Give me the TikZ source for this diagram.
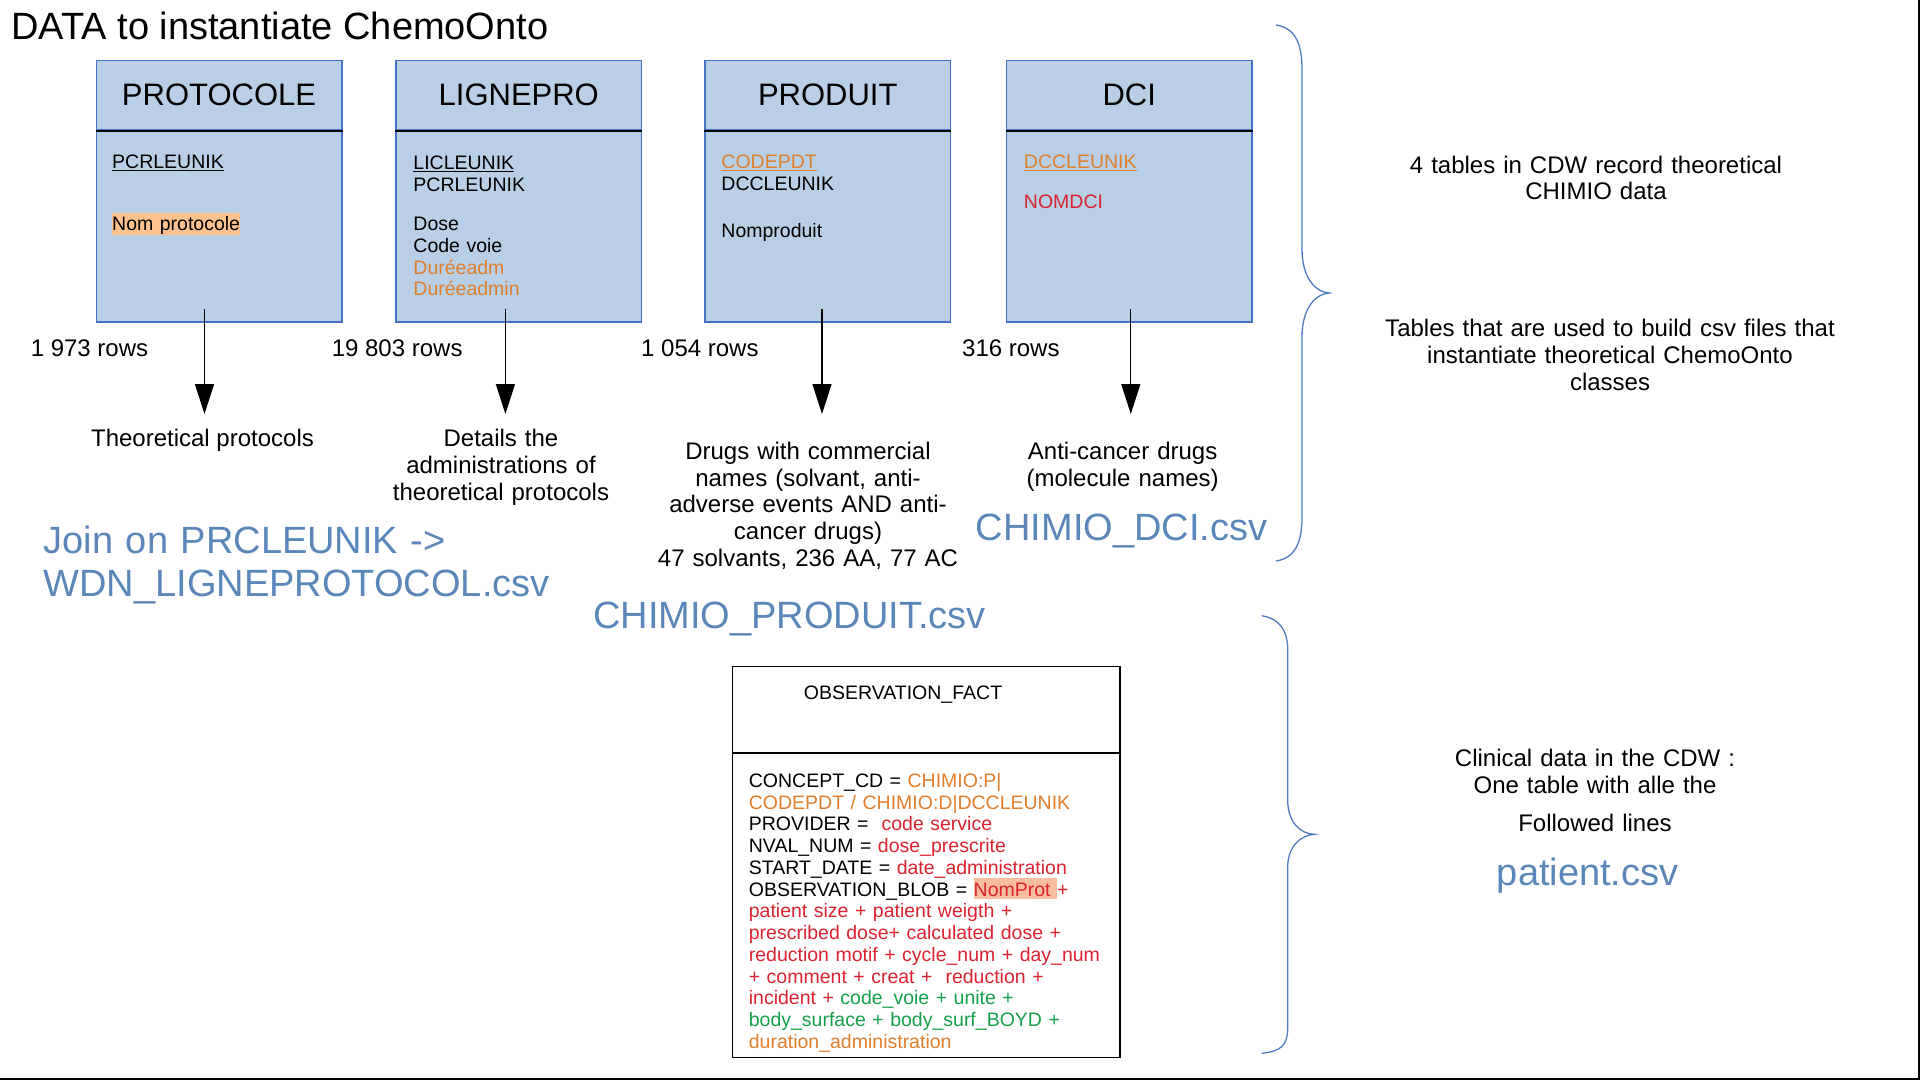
\documentclass[tikz,border=0pt]{standalone}
\usepackage{fontspec}
\setmainfont{Liberation Sans}
\usetikzlibrary{arrows.meta,calc}
\definecolor{boxfill}{HTML}{B9CFE6}
\definecolor{boxline}{HTML}{4472C4}
\definecolor{txtorange}{HTML}{E07E2C}
\definecolor{txtred}{HTML}{DA2230}
\definecolor{txtgreen}{HTML}{16A04B}
\definecolor{csvblue}{HTML}{5A86BA}
\definecolor{bracecol}{HTML}{4F7CC0}
\definecolor{hlone}{HTML}{FFC18E}
\definecolor{hltwo}{HTML}{F9BE9D}
\newcommand\myul[1]{\begingroup\setbox0\hbox{#1}\rlap{\rule[-2.6pt]{\wd0}{1.3pt}}\box0\endgroup}
\newcommand\myhl[2]{{\setlength{\fboxsep}{0pt}\colorbox{#1}{\rule[-3.3pt]{0pt}{21pt}#2}}}
\begin{document}
\begin{tikzpicture}[x=1pt,y=-1pt,
  hdr/.style={draw=boxline,fill=boxfill,line width=1.5pt,minimum width=245.5pt,
    minimum height=69.5pt,inner sep=0pt,text height=44.5pt,text depth=25pt,
    font=\fontsize{31}{36}\selectfont},
  tbody/.style={draw=boxline,fill=boxfill,line width=1.5pt,minimum width=245.5pt,
    minimum height=190.5pt,inner sep=0pt},
  divider/.style={line width=1.5pt,black},
  fields/.style={anchor=base west,inner sep=0pt,text width=220pt,align=left,
    font=\fontsize{19.5}{21.8}\selectfont},
  lbl/.style={anchor=base,inner sep=0pt,font=\fontsize{24}{26.7}\selectfont},
  lblc/.style={anchor=base,inner sep=0pt,align=center,font=\fontsize{24}{26.7}\selectfont},
  rows/.style={anchor=base west,inner sep=0pt,font=\fontsize{24}{26.7}\selectfont},
  csv/.style={anchor=base west,inner sep=0pt,text=csvblue,font=\fontsize{38}{43.4}\selectfont},
  arr/.style={line width=1.2pt,black,-{Triangle[length=30pt,width=19pt]}},
  brace/.style={draw=bracecol,line width=1.3pt},
  obs/.style={draw=black,line width=1.3pt,minimum width=387.7pt,inner sep=0pt}
]
\useasboundingbox (0,0) rectangle (1920,1080);

% title
\node[anchor=base west,inner sep=0pt,font=\fontsize{38}{44}\selectfont] (title) at (11,39) {DATA to instantiate ChemoOnto};

% tables
\node[hdr] (h1) at (219,95.25) {PROTOCOLE};
\node[tbody,anchor=north] (b1) at (h1.south) {};
\node[hdr] (h2) at (518.75,95.25) {LIGNEPRO};
\node[tbody,anchor=north] (b2) at (h2.south) {};
\node[hdr] (h3) at (827.75,95.25) {PRODUIT};
\node[tbody,anchor=north] (b3) at (h3.south) {};
\node[hdr] (h4) at (1129.25,95.25) {DCI};
\node[tbody,anchor=north] (b4) at (h4.south) {};
\foreach \i in {1,2,3,4} {\draw[divider] (h\i.south west) -- (h\i.south east);}

\node[fields] (f1) at ($(b1.north west)+(16.5,38)$)
  {\myul{PCRLEUNIK}\\[40pt]\myhl{hlone}{Nom protocole}};
\node[fields] (f2) at ($(b2.north west)+(18,38.7)$)
  {\myul{LICLEUNIK}\\PCRLEUNIK\\[17.4pt]Dose\\Code voie\\{\color{txtorange}Duréeadm}\\{\color{txtorange}Duréeadmin}};
\node[fields] (f3) at ($(b3.north west)+(17,38)$)
  {{\color{txtorange}\myul{CODEPDT}}\\DCCLEUNIK\\[24.9pt]Nomproduit};
\node[fields] (f4) at ($(b4.north west)+(18,38)$)
  {{\color{txtorange}\myul{DCCLEUNIK}}\\[18.2pt]{\color{txtred}NOMDCI}};

% row counts
\node[rows] (n1) at (30.6,356) {1 973 rows};
\node[rows] (n2) at (331.6,356) {19 803 rows};
\node[rows] (n3) at (641,356) {1 054 rows};
\node[rows] (n4) at (962,356) {316 rows};

% arrows
\coordinate (e1) at (204.5,414);
\coordinate (e2) at (505.4,414);
\coordinate (e3) at (822,414);
\coordinate (e4) at (1130.8,414);
\draw[arr] ($(b1.south -| e1)+(0,-13.5)$) -- (e1);
\draw[arr] ($(b2.south -| e2)+(0,-13.5)$) -- (e2);
\draw[arr] ($(b3.south -| e3)+(0,-13.5)$) -- (e3);
\draw[arr] ($(b4.south -| e4)+(0,-13.5)$) -- (e4);

% descriptions
\node[lbl] (d1) at (202.5,446.7) {Theoretical protocols};
\node[lblc,text width=250pt] (d2) at (501,446.7) {Details the\\administrations of\\theoretical protocols};
\node[lblc,text width=360pt] (d3) at (808,459.5) {Drugs with commercial\\names (solvant, anti-\\adverse events AND anti-\\cancer drugs)\\47 solvants, 236 AA, 77 AC};
\node[lblc,text width=260pt] (d4) at (1122.6,459.5) {Anti-cancer drugs\\(molecule names)};

% csv names
\node[csv,text width=600pt,align=left] (c1) at (43.4,553.3) {Join on PRCLEUNIK ->\\WDN\_LIGNEPROTOCOL.csv};
\node[csv] (c2) at (593,628.3) {CHIMIO\_PRODUIT.csv};
\node[csv] (c3) at (975.7,540.7) {CHIMIO\_DCI.csv};
\node[csv] (c4) at (1496.7,885) {patient.csv};

% braces
\draw[brace] (1276,25) .. controls (1296,28) and (1302,45) .. (1302,69) -- (1302,249)
  .. controls (1302,276) and (1314,292) .. (1329.4,293)
  .. controls (1314,294) and (1302,310) .. (1302,337) -- (1302,517)
  .. controls (1302,541) and (1296,558) .. (1276,561);
\draw[brace] (1261.7,615.7) .. controls (1281,619) and (1287.7,632) .. (1287.7,650) -- (1287.7,800)
  .. controls (1287.7,822) and (1300,834) .. (1314.6,834.3)
  .. controls (1300,835) and (1287.7,847) .. (1287.7,867) -- (1287.7,1027)
  .. controls (1287.7,1046) and (1281,1051) .. (1261.7,1053.3);

% right-hand texts
\node[lblc,text width=480pt] (t1) at (1596,173) {4 tables in CDW record theoretical\\CHIMIO data};
\node[lblc,text width=480pt] (t2) at (1610,336.8) {Tables that are used to build csv files that\\instantiate theoretical ChemoOnto\\classes};
\node[lblc,text width=400pt] (t3) at (1595,766.7) {Clinical data in the CDW :\\One table with alle the\\[11.4pt]Followed lines};

% observation fact table
\node[obs,minimum height=85.6pt] (oh) at (926.15,709.5) {};
\node[obs,minimum height=303.7pt,anchor=north] (ob) at (oh.south) {};
\node[anchor=base west,inner sep=0pt,font=\fontsize{19.5}{21.75}\selectfont] (ot) at ($(oh.north west)+(72,33.3)$) {OBSERVATION\_FACT};
\node[anchor=base west,inner sep=0pt,text width=375pt,align=left,font=\fontsize{19.5}{21.75}\selectfont] (of) at ($(ob.north west)+(17,34.4)$)
  {CONCEPT\_CD = {\color{txtorange}CHIMIO:P|}\\
   {\color{txtorange}CODEPDT / CHIMIO:D|DCCLEUNIK}\\
   PROVIDER =~ {\color{txtred}code service}\\
   NVAL\_NUM = {\color{txtred}dose\_prescrite}\\
   START\_DATE = {\color{txtred}date\_administration}\\
   OBSERVATION\_BLOB = {\color{txtred}\myhl{hltwo}{NomProt\ }+}\\
   {\color{txtred}patient size + patient weigth +}\\
   {\color{txtred}prescribed dose+ calculated dose +}\\
   {\color{txtred}reduction motif + cycle\_num + day\_num}\\
   {\color{txtred}+ comment + creat +~ reduction +}\\
   {\color{txtred}incident +} {\color{txtgreen}code\_voie + unite +}\\
   {\color{txtgreen}body\_surface + body\_surf\_BOYD +}\\
   {\color{txtorange}duration\_administration}};

% page frame (right and bottom edges)
\draw[line width=2.4pt] (1918.8,0) -- (1918.8,1080);
\draw[line width=2.4pt] (0,1078.8) -- (1920,1078.8);
\end{tikzpicture}
\end{document}
